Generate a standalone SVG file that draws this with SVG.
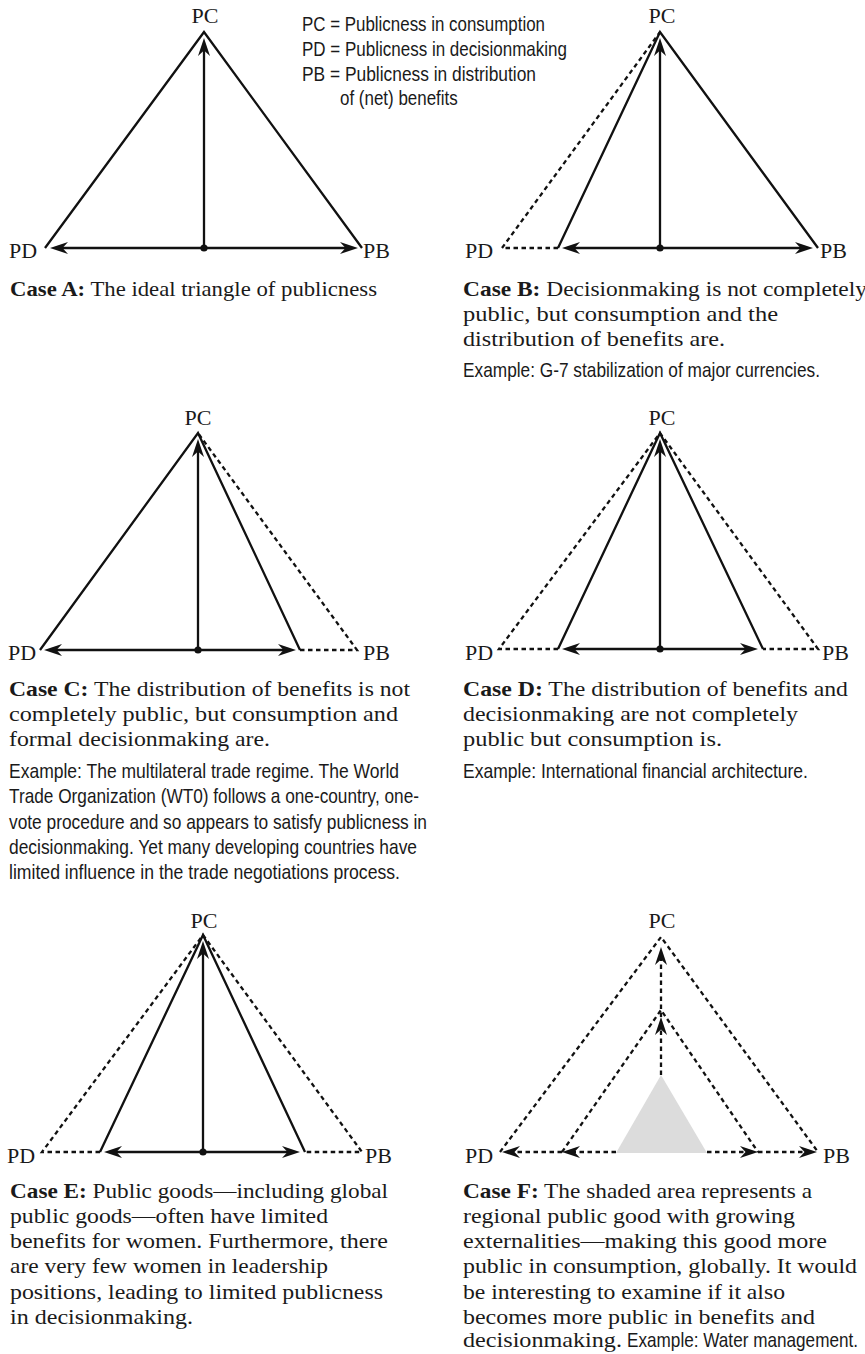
<svg xmlns="http://www.w3.org/2000/svg" width="865" height="1354" viewBox="0 0 865 1354">
<style>
.s{stroke:#111;stroke-width:2.3;fill:none;stroke-linejoin:miter}
.d{stroke:#111;stroke-width:2.3;fill:none;stroke-dasharray:4.5 3.5}
.a{stroke:#111;stroke-width:2.3;fill:none;marker-end:url(#ah)}
.ad{stroke:#111;stroke-width:2.3;fill:none;stroke-dasharray:4.5 3.5;marker-end:url(#ah)}
.dot{fill:#111}
.lbl{font-family:"Liberation Serif","Times New Roman",serif;font-size:22px;fill:#1a1a1a}
.cap{font-family:"Liberation Serif","Times New Roman",serif;font-size:21px;fill:#1a1a1a}
.b{font-weight:bold}
.ex{font-family:"Liberation Sans Narrow","Liberation Sans",Arial,sans-serif;font-size:20px;fill:#1a1a1a}
</style>
<defs>
<marker id="ah" viewBox="-19 -7 21 14" markerWidth="21" markerHeight="14" refX="-10" refY="0" orient="auto" markerUnits="userSpaceOnUse">
<path d="M0,0 L-18,-6 L-12.5,0 L-18,6 Z" fill="#111"/>
</marker>
</defs>

<g id="legend">
<text class="ex" transform="translate(302,31) scale(0.78,1)" textLength="311.5" lengthAdjust="spacingAndGlyphs">PC = Publicness in consumption</text>
<text class="ex" transform="translate(302,56) scale(0.78,1)" textLength="339.7" lengthAdjust="spacingAndGlyphs">PD = Publicness in decisionmaking</text>
<text class="ex" transform="translate(302,81) scale(0.78,1)" textLength="300" lengthAdjust="spacingAndGlyphs">PB = Publicness in distribution</text>
<text class="ex" transform="translate(340,105) scale(0.78,1)" textLength="151" lengthAdjust="spacingAndGlyphs">of (net) benefits</text>
</g>

<g id="caseA">
<path class="s" d="M45,248 L204,32 L362,248"/>
<text class="lbl" x="205" y="23" text-anchor="middle">PC</text>
<text class="lbl" x="9" y="258">PD</text>
<text class="lbl" x="363" y="258">PB</text>
<text class="cap" x="10" y="296" textLength="367" lengthAdjust="spacingAndGlyphs"><tspan class="b">Case A:</tspan> The ideal triangle of publicness</text>
</g>

<g id="caseB">
<path class="s" d="M558,248 L660,32 L818,248"/>
<path class="d" d="M558,248 H502 L660,32"/>
<text class="lbl" x="662" y="23" text-anchor="middle">PC</text>
<text class="lbl" x="465" y="258">PD</text>
<text class="lbl" x="820" y="258">PB</text>
<text class="cap" x="463" y="296" textLength="404" lengthAdjust="spacingAndGlyphs"><tspan class="b">Case B:</tspan> Decisionmaking is not completely</text>
<text class="cap" x="463" y="321" textLength="315" lengthAdjust="spacingAndGlyphs">public, but consumption and the</text>
<text class="cap" x="463" y="346" textLength="262" lengthAdjust="spacingAndGlyphs">distribution of benefits are.</text>
<text class="ex" transform="translate(463,377) scale(0.78,1)" textLength="457.7" lengthAdjust="spacingAndGlyphs">Example: G-7 stabilization of major currencies.</text>
</g>

<g id="caseC">
<path class="s" d="M40,650 L198,433 L300,650"/>
<path class="d" d="M300,650 H357 L198,433"/>
<text class="lbl" x="198" y="425" text-anchor="middle">PC</text>
<text class="lbl" x="8" y="660">PD</text>
<text class="lbl" x="363" y="660">PB</text>
<text class="cap" x="9" y="696" textLength="401" lengthAdjust="spacingAndGlyphs"><tspan class="b">Case C:</tspan> The distribution of benefits is not</text>
<text class="cap" x="9" y="721" textLength="389" lengthAdjust="spacingAndGlyphs">completely public, but consumption and</text>
<text class="cap" x="9" y="746" textLength="261" lengthAdjust="spacingAndGlyphs">formal decisionmaking are.</text>
<text class="ex" transform="translate(9,778) scale(0.78,1)" textLength="500" lengthAdjust="spacingAndGlyphs">Example: The multilateral trade regime. The World</text>
<text class="ex" transform="translate(9,803) scale(0.78,1)" textLength="525.6" lengthAdjust="spacingAndGlyphs">Trade Organization (WT0) follows a one-country, one-</text>
<text class="ex" transform="translate(9,829) scale(0.78,1)" textLength="535.9" lengthAdjust="spacingAndGlyphs">vote procedure and so appears to satisfy publicness in</text>
<text class="ex" transform="translate(9,854) scale(0.78,1)" textLength="523.1" lengthAdjust="spacingAndGlyphs">decisionmaking. Yet many developing countries have</text>
<text class="ex" transform="translate(9,879) scale(0.78,1)" textLength="501.3" lengthAdjust="spacingAndGlyphs">limited influence in the trade negotiations process.</text>
</g>

<g id="caseD">
<path class="s" d="M558,649 L660,433 L763,649"/>
<path class="d" d="M558,649 H499 L660,433 L818,649 H763"/>
<text class="lbl" x="662" y="425" text-anchor="middle">PC</text>
<text class="lbl" x="465" y="660">PD</text>
<text class="lbl" x="822" y="660">PB</text>
<text class="cap" x="463" y="696" textLength="385" lengthAdjust="spacingAndGlyphs"><tspan class="b">Case D:</tspan> The distribution of benefits and</text>
<text class="cap" x="463" y="721" textLength="335" lengthAdjust="spacingAndGlyphs">decisionmaking are not completely</text>
<text class="cap" x="463" y="746" textLength="259" lengthAdjust="spacingAndGlyphs">public but consumption is.</text>
<text class="ex" transform="translate(463,778) scale(0.78,1)" textLength="442.3" lengthAdjust="spacingAndGlyphs">Example: International financial architecture.</text>
</g>

<g id="caseE">
<path class="s" d="M100,1152 L203,935 L305,1152"/>
<path class="d" d="M100,1152 H42 L203,935 L362,1152 H305"/>
<text class="lbl" x="204" y="928" text-anchor="middle">PC</text>
<text class="lbl" x="7" y="1163">PD</text>
<text class="lbl" x="365" y="1163">PB</text>
<text class="cap" x="10" y="1198" textLength="378" lengthAdjust="spacingAndGlyphs"><tspan class="b">Case E:</tspan> Public goods—including global</text>
<text class="cap" x="10" y="1223" textLength="318" lengthAdjust="spacingAndGlyphs">public goods—often have limited</text>
<text class="cap" x="10" y="1248" textLength="378" lengthAdjust="spacingAndGlyphs">benefits for women. Furthermore, there</text>
<text class="cap" x="10" y="1273" textLength="318" lengthAdjust="spacingAndGlyphs">are very few women in leadership</text>
<text class="cap" x="10" y="1299" textLength="373" lengthAdjust="spacingAndGlyphs">positions, leading to limited publicness</text>
<text class="cap" x="10" y="1324" textLength="183" lengthAdjust="spacingAndGlyphs">in decisionmaking.</text>
</g>

<g id="caseF">
<polygon points="661,1075 616,1153 707,1153" fill="#dcdcdc"/>
<path class="d" d="M500,1152 L661,937 L818,1152"/>
<path class="d" d="M562,1152 L661,1010 L758,1152"/>
<text class="lbl" x="662" y="928" text-anchor="middle">PC</text>
<text class="lbl" x="465" y="1163">PD</text>
<text class="lbl" x="823" y="1163">PB</text>
<text class="cap" x="463" y="1198" textLength="349" lengthAdjust="spacingAndGlyphs"><tspan class="b">Case F:</tspan> The shaded area represents a</text>
<text class="cap" x="463" y="1223" textLength="332" lengthAdjust="spacingAndGlyphs">regional public good with growing</text>
<text class="cap" x="463" y="1248" textLength="364" lengthAdjust="spacingAndGlyphs">externalities—making this good more</text>
<text class="cap" x="463" y="1273" textLength="394" lengthAdjust="spacingAndGlyphs">public in consumption, globally. It would</text>
<text class="cap" x="463" y="1299" textLength="322" lengthAdjust="spacingAndGlyphs">be interesting to examine if it also</text>
<text class="cap" x="463" y="1324" textLength="352" lengthAdjust="spacingAndGlyphs">becomes more public in benefits and</text>
<text class="cap" x="463" y="1347" textLength="159" lengthAdjust="spacingAndGlyphs">decisionmaking.</text>
<text class="ex" transform="translate(627,1347) scale(0.78,1)" textLength="296.2" lengthAdjust="spacingAndGlyphs">Example: Water management.</text>
</g>

<g id="connectors">
<path class="a" d="M204,248 H60"/>
<path class="a" d="M204,248 H348"/>
<path class="a" d="M204,248 V48"/>
<circle class="dot" cx="204" cy="248" r="3.6"/>

<path class="a" d="M660,248 H572"/>
<path class="a" d="M660,248 H803"/>
<path class="a" d="M660,248 V48"/>
<circle class="dot" cx="660" cy="248" r="3.6"/>

<path class="a" d="M198,650 H54"/>
<path class="a" d="M198,650 H286"/>
<path class="a" d="M198,650 V449"/>
<circle class="dot" cx="198" cy="650" r="3.6"/>

<path class="a" d="M660,649 H572"/>
<path class="a" d="M660,649 H748"/>
<path class="a" d="M660,649 V449"/>
<circle class="dot" cx="660" cy="649" r="3.6"/>

<path class="a" d="M203,1152 H114"/>
<path class="a" d="M203,1152 H290"/>
<path class="a" d="M203,1152 V951"/>
<circle class="dot" cx="203" cy="1152" r="3.6"/>

<path class="ad" d="M661,1075 V1027"/>
<path class="ad" d="M661,1017 V957"/>
<path class="ad" d="M616,1152 H572"/>
<path class="ad" d="M562,1152 H512"/>
<path class="ad" d="M707,1152 H748"/>
<path class="ad" d="M758,1152 H807"/>
</g>
</svg>
